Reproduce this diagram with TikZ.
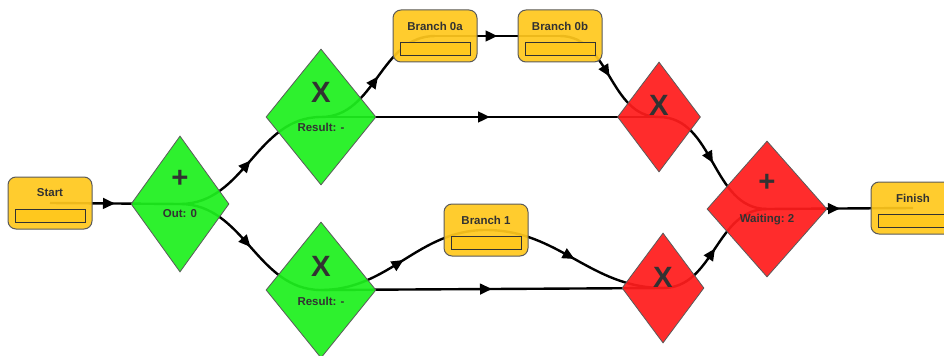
\documentclass[tikz,border=0pt]{standalone}
\usepackage{fontspec}
\setmainfont{Liberation Sans}
\usetikzlibrary{shapes.geometric,arrows.meta,decorations.markings,backgrounds}

\definecolor{taskyellow}{RGB}{255,200,30}
\definecolor{gategreen}{RGB}{30,240,30}
\definecolor{gatered}{RGB}{255,28,28}
\definecolor{rimgray}{RGB}{90,90,90}
\definecolor{inkgray}{RGB}{50,50,50}

\begin{document}
\begin{tikzpicture}[x=0.75pt,y=0.75pt,yscale=-1,xscale=1,
  task/.style={rectangle,rounded corners=6pt,draw=rimgray,line width=0.75pt,fill=taskyellow,fill opacity=0.93,minimum width=63pt,minimum height=39pt,inner sep=0pt},
  slot/.style={rectangle,draw=inkgray,line width=0.75pt,fill=taskyellow,minimum width=52.5pt,minimum height=9.75pt,inner sep=0pt},
  gate/.style={diamond,draw=rimgray,line width=0.6pt,fill opacity=0.93,inner sep=0pt},
  caption/.style={font=\bfseries\fontsize{8.6}{10}\selectfont,text=inkgray,inner sep=0pt},
  gatesym/.style={font=\bfseries\fontsize{22}{24}\selectfont,text=inkgray,inner sep=0pt},
  flow/.style={line width=1.8pt,postaction={decorate},decoration={markings,mark=at position 0.5 with {\arrow{Triangle[length=9pt,width=8pt]}}}}]
\useasboundingbox (0,0) rectangle (944,356);

% Tasks
\node [task] (start) at (50,203) {};
\node [caption,yshift=7.5pt] (starttitle) at (start.center) {Start};
\node [slot,yshift=-9.4pt] (startslot) at (start.center) {};

\node [task] (brancha) at (435,36) {};
\node [caption,yshift=7.5pt] (branchatitle) at (brancha.center) {Branch 0a};
\node [slot,yshift=-9.4pt] (branchaslot) at (brancha.center) {};

\node [task] (branchb) at (560,36) {};
\node [caption,yshift=7.5pt] (branchbtitle) at (branchb.center) {Branch 0b};
\node [slot,yshift=-9.4pt] (branchbslot) at (branchb.center) {};

\node [task] (branchc) at (486,230) {};
\node [caption,yshift=7.5pt] (branchctitle) at (branchc.center) {Branch 1};
\node [slot,yshift=-9.4pt] (branchcslot) at (branchc.center) {};

\node [task] (finish) at (913,208) {};
\node [caption,yshift=7.5pt] (finishtitle) at (finish.center) {Finish};
\node [slot,yshift=-9.4pt] (finishslot) at (finish.center) {};

% Gateways
\node [gate,fill=gategreen,minimum width=73.5pt,minimum height=102pt] (fork) at (180,204) {};
\node [gatesym,yshift=18.75pt] (forksym) at (fork.center) {+};
\node [caption,yshift=-7.5pt] (forkstat) at (fork.center) {Out: 0};

\node [gate,fill=gategreen,minimum width=82.5pt,minimum height=102pt] (choicea) at (321,117) {};
\node [gatesym,yshift=18.75pt] (choiceasym) at (choicea.center) {X};
\node [caption,yshift=-7.5pt] (choiceastat) at (choicea.center) {Result: -};

\node [gate,fill=gategreen,minimum width=82.5pt,minimum height=102pt] (choiceb) at (321,290) {};
\node [gatesym,yshift=18pt] (choicebsym) at (choiceb.center) {X};
\node [caption,yshift=-8.25pt] (choicebstat) at (choiceb.center) {Result: -};

\node [gate,fill=gatered,minimum width=62.25pt,minimum height=82.5pt] (mergea) at (659,117) {};
\node [gatesym,yshift=9pt] (mergeasym) at (mergea.center) {X};

\node [gate,fill=gatered,minimum width=61.5pt,minimum height=82.5pt] (mergeb) at (663,288) {};
\node [gatesym,yshift=8.25pt] (mergebsym) at (mergeb.center) {X};

\node [gate,fill=gatered,minimum width=90pt,minimum height=102pt] (join) at (767,209) {};
\node [gatesym,yshift=19.5pt] (joinsym) at (join.center) {+};
\node [caption,yshift=-8.25pt] (joinstat) at (join.center) {Waiting:\ 2};

% Flows
\begin{pgfonlayer}{background}
\draw [flow] (start.center) -- (fork.center);
\draw [flow] (fork.center) to[out=0,in=180] (choicea.center);
\draw [flow] (fork.center) to[out=0,in=180] (choiceb.center);
\draw [flow] (choicea.center) to[out=0,in=180] (brancha.center);
\draw [flow] (brancha.center) -- (branchb.center);
\draw [flow] (branchb.center) to[out=0,in=180] (mergea.center);
\draw [flow] (choicea.center) -- (mergea.center);
\draw [flow] (choiceb.center) to[out=0,in=180] (branchc.center);
\draw [flow] (branchc.center) to[out=0,in=180] (mergeb.center);
\draw [flow] (choiceb.center) -- (mergeb.center);
\draw [flow] (mergea.center) to[out=0,in=180] (join.center);
\draw [flow] (mergeb.center) to[out=0,in=180] (join.center);
\draw [flow] (join.center) -- (finish.center);
\end{pgfonlayer}

\end{tikzpicture}
\end{document}
